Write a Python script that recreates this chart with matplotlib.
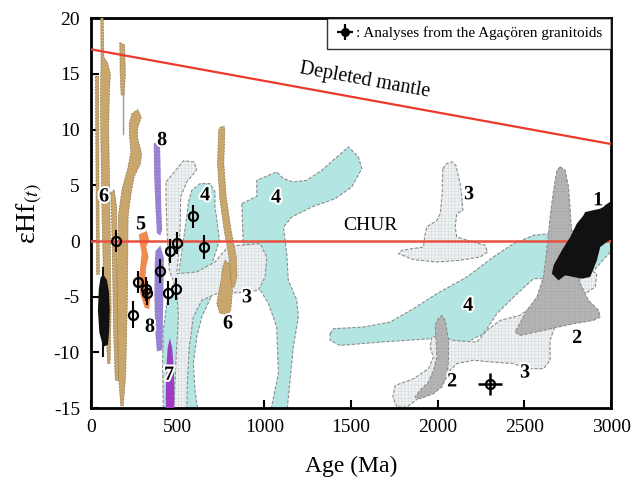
import matplotlib
matplotlib.use('Agg')
import numpy as np
import matplotlib.pyplot as plt
from matplotlib.patches import Polygon
import matplotlib.patheffects as pe

plt.rcParams['font.family'] = ['Liberation Serif', 'DejaVu Serif']
plt.rcParams['mathtext.fontset'] = 'stix'
plt.rcParams['axes.unicode_minus'] = False
plt.rcParams['hatch.linewidth'] = 0.35

# reference lines (age Ma, eHf)
dm_age = [0, 3000]
dm_eps = [17.2, 8.7]
chur_eps = 0

# Agacoren granitoid analyses
pt_age = [145, 590, 652, 494, 456, 398, 273, 317, 321, 446, 490, 240]
pt_eps = [0.0, 2.2, -0.55, -0.2, -0.9, -2.7, -3.7, -4.3, -4.65, -4.65, -4.3, -6.6]
pt_err = [1.0, 1.0, 1.1, 1.0, 1.1, 1.1, 1.0, 1.1, 1.1, 1.1, 1.0, 1.2]
old_age, old_eps, old_xerr, old_yerr = [2300], [-12.8], [70], [1.0]

# field outlines (age, eHf)
teal_a = [(870, 3.36), (956, 4.0), (956, 5.45), (1071, 6.2), (1110, 5.6), (1167, 5.3),
          (1245, 5.45), (1331, 6.35), (1485, 8.45), (1542, 7.55), (1562, 6.5), (1504, 4.85),
          (1408, 3.8), (1273, 3.05), (1158, 2.15), (1110, 1.25), (1129, -1.15), (1138, -3.55),
          (1187, -5.3), (1196, -6.8), (1167, -9.5), (1148, -12.5), (1129, -15.5), (1033, -15.5),
          (1081, -11.9), (1071, -7.7), (1023, -5.6), (965, -4.1), (889, -1.7), (877, 0.05)]
teal_b = [(1379, -8.32), (1398, -7.87), (1571, -7.72), (1725, -7.27), (1860, -6.07),
          (1995, -4.72), (2168, -3.23), (2321, -1.43), (2437, -0.23), (2552, 0.51),
          (2725, 0.81), (3020, 1.3), (3020, -0.54), (2918, -2.33), (2822, -4.13),
          (2745, -5.03), (2629, -4.13), (2610, -3.38), (2552, -3.38), (2437, -5.03),
          (2341, -6.52), (2264, -8.32), (2168, -9.07), (1956, -8.77), (1668, -9.07),
          (1437, -9.37), (1379, -8.92)]
teal_c = [(562, 3.5), (581, 4.55), (629, 5.15), (687, 5.15), (715, 4.4), (715, 3.05),
          (729, 1.56), (740, 0.06), (687, -2.6), (696, -4.9), (639, -6.8), (610, -8.6),
          (590, -11.0), (600, -13.4), (619, -15.5), (417, -15.5), (413, -11.0), (417, -8.0),
          (437, -5.6), (494, -4.1), (514, -2.0), (533, 0.06), (552, 2.15)]
hatch_a = [(433, 5.3), (533, 7.2), (594, 7.1), (610, 6.4), (552, 5.3), (517, 3.95),
           (514, 0.96), (504, -1.43), (494, -2.93), (610, -2.78), (715, -1.88), (792, -0.47),
           (975, -0.23), (1014, -1.43), (1004, -3.23), (965, -4.43), (860, -4.63), (725, -4.72),
           (639, -5.32), (590, -6.82), (567, -9.52), (556, -12.5), (552, -15.5), (475, -15.5),
           (485, -12.5), (494, -9.52), (504, -6.82), (494, -4.43), (452, -2.63), (440, 0.36),
           (433, 3.36)]
hatch_b = [(2029, 6.5), (2052, 6.95), (2081, 7.1), (2104, 6.8), (2129, 5.15), (2139, 3.95),
           (2145, 2.75), (2110, 2.46), (2100, 1.26), (2110, 0.36), (2206, -0.09), (2273, -0.38),
           (2287, -0.99), (2245, -1.43), (2129, -1.73), (1995, -1.88), (1860, -1.67),
           (1773, -1.13), (1793, -0.83), (1917, -0.54), (1927, 0.66), (1937, 1.26),
           (1995, 1.86), (2014, 2.46), (2025, 4.1)]
hatch_c = [(1764, -14.9), (1741, -14.0), (1754, -12.96), (1860, -12.36), (1946, -11.46),
           (1975, -10.42), (1956, -9.52), (1966, -8.62), (2014, -8.47), (2090, -8.92),
           (2225, -9.07), (2283, -8.02), (2360, -7.12), (2475, -6.67), (2591, -5.32),
           (2725, -4.43), (2783, -3.23), (2879, -2.63), (2918, -2.93), (2908, -4.13),
           (2822, -5.03), (2745, -5.32), (2687, -7.12), (2648, -8.92), (2648, -10.7),
           (2610, -11.46), (2514, -11.46), (2437, -11.0), (2321, -10.87), (2206, -10.7),
           (2110, -11.0), (2033, -12.2), (1975, -13.4), (1898, -14.0), (1822, -14.9)]
gray_a = [(1995, -7.12), (2023, -6.67), (2043, -7.12), (2062, -8.92), (2062, -10.7),
          (2052, -12.2), (2023, -13.1), (1975, -13.7), (1898, -14.15), (1869, -14.0),
          (1898, -13.4), (1946, -12.66), (1975, -11.6), (1995, -10.42), (1991, -8.92),
          (1985, -7.72)]
gray_b = [(2706, 6.65), (2735, 6.35), (2754, 4.85), (2764, 2.76), (2774, 0.36), (2793, -1.73),
          (2822, -3.82), (2869, -5.32), (2927, -6.22), (2937, -6.82), (2898, -7.12),
          (2783, -7.42), (2610, -8.02), (2475, -8.47), (2446, -8.17), (2514, -6.22),
          (2572, -5.03), (2610, -3.23), (2629, -0.83), (2648, 2.16), (2668, 4.55), (2687, 6.35)]
black_1 = [(2850, 2.6), (2937, 2.9), (3020, 3.8), (3020, 0.36), (2975, -0.09), (2937, -0.54),
           (2918, -1.73), (2879, -3.23), (2831, -3.38), (2735, -3.08), (2696, -3.53),
           (2658, -2.93), (2668, -2.18), (2716, -0.83), (2764, 0.36), (2802, 1.56), (2841, 2.31)]
black_blob = [(70, -3.0), (92, -3.5), (104, -4.6), (108, -6.2), (105, -8.0), (98, -9.3),
              (70, -9.5), (48, -8.2), (40, -6.2), (45, -4.3), (55, -3.3)]
blob_bar_age = [72, 72]
blob_bar_eps = [-2.4, -10.3]
tan_1 = [(26, 14.8), (44, 14.8), (46, 5), (48, -3), (32, -3), (29, 5)]
tan_a = [(56, 20.5), (70, 20.5), (74, 16.5), (95, 16.0), (112, 15.0), (106, 13.5), (102, 10),
         (106, 6), (110, 2), (112, -2), (116, -6), (110, -11), (96, -11), (80, -6), (70, -2),
         (64, 2), (60, 6), (56, 10), (55, 13.5), (58, 16)]
tan_u = [(112, 4.3), (134, 4.6), (148, 3), (150, -2), (152, -8), (160, -12.5), (140, -12.5),
         (130, -8), (124, -2), (118, 3)]
tan_b = [(166, 17.8), (194, 17.6), (198, 15), (192, 13.1), (174, 13.1), (168, 15)]
tan_c = [(235, 11.4), (270, 11.8), (290, 11.1), (270, 10.2), (268, 9.3), (292, 7.8),
         (284, 6.9), (250, 5.8), (232, 4.4), (214, 2.3), (210, -5), (200, -12), (186, -14.8),
         (172, -14.8), (158, -12), (152, -5), (158, 2.3), (180, 4.7), (212, 6.5), (230, 8),
         (222, 9.5), (220, 10.5)]
tan_d = [(745, 10.2), (768, 10.3), (772, 9.94), (766, 6.95), (780, 3.95), (808, 0.96),
         (838, -1.43), (842, -3.23), (826, -4.13), (798, -4.13), (806, -3.23), (796, -1.43),
         (768, 0.96), (742, 3.95), (730, 6.95), (736, 9.94)]
tan_e = [(773, -1.73), (795, -2.03), (806, -3.23), (816, -4.43), (806, -6.22), (786, -6.62),
         (742, -6.47), (726, -5.62), (736, -4.72), (750, -3.53), (760, -2.33)]
purple_a = [(362, 8.8), (398, 8.8), (402, 6), (405, 3), (410, 1), (400, 0.5), (380, 0.7),
            (372, 3), (364, 6)]
purple_b = [(372, -0.9), (400, -0.4), (420, -1.5), (418, -4), (415, -7), (412, -9.8),
            (380, -9.9), (370, -8), (366, -5), (368, -2)]
orange_5 = [(276, 0.6), (322, 0.9), (336, 0.06), (318, -0.54), (332, -1.43), (318, -2.33),
            (314, -3.23), (326, -4.13), (342, -5.03), (336, -6.1), (310, -6.0), (284, -4.72),
            (274, -3.53), (284, -2.33), (292, -1.13), (282, -0.23)]
magenta_7 = [(455, -8.7), (468, -9.6), (478, -11.5), (481, -14), (479, -16), (433, -16),
             (431, -14), (434, -11.5), (442, -9.6)]

# field numbers
lab_txt = ['6', '8', '4', '4', '5', '8', '7', '6', '3', '3', '1', '4', '2', '3', '2']
lab_age = [75, 410, 658, 1067, 289, 340, 450, 790, 900, 2181, 2925, 2175, 2804, 2504, 2083]
lab_eps = [4.0, 9.05, 4.1, 3.9, 1.5, -7.7, -12.0, -7.4, -5.05, 4.2, 3.65, -5.8, -8.7, -11.8, -12.6]

TEAL = '#b3e6e2'
HATCH_FC = '#eff2f3'
GRAY = '#b5b5b5'
TAN = '#c9a76c'


def draw_shape(ax, pts, fc, z, ec='#8c8c8c', hatch=None, hc='#d2d9dc', lw=0.8):
    ax.add_patch(Polygon(pts, closed=True, facecolor=fc, edgecolor='none', zorder=z))
    if hatch:
        ax.add_patch(Polygon(pts, closed=True, facecolor='none', edgecolor=hc,
                             hatch=hatch, lw=0, zorder=z))
    if ec:
        ax.add_patch(Polygon(pts, closed=True, fill=False, edgecolor=ec,
                             ls=(0, (3, 1.5)), lw=lw, zorder=z))


fig = plt.figure(figsize=(6.32, 4.90), dpi=100)
ax = fig.add_axes([0.144, 0.167, 0.823, 0.796])

for shp in (teal_a, teal_b, teal_c):
    draw_shape(ax, shp, TEAL, 1)
for shp in (hatch_a, hatch_b, hatch_c):
    draw_shape(ax, shp, HATCH_FC, 2, hatch='+++++')
for shp in (gray_a, gray_b):
    draw_shape(ax, shp, GRAY, 3, hatch='+++++', hc='#aaaaaa')
for shp in (tan_1, tan_a, tan_u, tan_b, tan_c, tan_d, tan_e):
    draw_shape(ax, shp, TAN, 3.5, ec='#8a7550', lw=0.5)
ax.plot([183, 183], [13.1, 9.6], color='#9a9a9a', lw=1, zorder=3.5)
draw_shape(ax, purple_a, '#9b86d6', 4, ec=None, hatch='-----', hc='#8a74c8')
draw_shape(ax, purple_b, '#9b86d6', 4, ec=None, hatch='-----', hc='#8a74c8')
draw_shape(ax, orange_5, '#f08a4e', 4, ec=None)
draw_shape(ax, magenta_7, '#a03cc4', 4, ec=None)

ax.plot(dm_age, dm_eps, color='#ee3a2c', lw=1.6, zorder=4.5)
ax.axhline(chur_eps, color='#e8503f', lw=1.8, zorder=4.5)

draw_shape(ax, black_1, '#111111', 5, ec=None)
draw_shape(ax, black_blob, '#111111', 5, ec=None)
ax.plot(blob_bar_age, blob_bar_eps, color='#111111', lw=1.5, zorder=5)

ax.errorbar(pt_age, pt_eps, yerr=pt_err, fmt='o', mfc='none', mec='black', mew=1.6, ms=6.5,
            ecolor='black', elinewidth=1.5, capsize=0, zorder=6)
ax.errorbar(old_age, old_eps, xerr=old_xerr, yerr=old_yerr, fmt='o', mfc='none', mec='black',
            mew=1.6, ms=6.5, ecolor='black', elinewidth=1.8, capsize=0, zorder=6)

halo = [pe.withStroke(linewidth=3, foreground='white')]
for t, x, y in zip(lab_txt, lab_age, lab_eps):
    ax.text(x, y, t, fontsize=14.5, fontweight='bold', ha='center', va='center',
            zorder=7, path_effects=halo)

ax.text(1580, 14.4, 'Depleted mantle', fontsize=14.5, rotation=-10.3,
        ha='center', va='center', rotation_mode='anchor')
ax.text(1610, 1.4, 'CHUR', fontsize=14, ha='center', va='center')

handle = ax.errorbar([np.nan], [np.nan], xerr=[1], yerr=[1], fmt='o', color='black',
                     ms=5.5, elinewidth=1.6, capsize=0)
leg = ax.legend([handle], [': Analyses from the Agaçören granitoids'], loc='upper right',
                fontsize=11, frameon=True, fancybox=False, borderaxespad=0,
                handlelength=1.3, handletextpad=0.1, borderpad=0.55)
leg.get_frame().set_edgecolor('black')
leg.get_frame().set_linewidth(1.0)
leg.set_zorder(8)

ax.set_xlim(0, 3000)
ax.set_ylim(-15, 20)
ax.set_xticks(range(0, 3001, 500))
ax.set_yticks(range(-15, 21, 5))
ax.tick_params(direction='in', length=6, width=1.5, labelsize=14, pad=8)
for s in ax.spines.values():
    s.set_linewidth(2)
ax.set_xlabel('Age (Ma)', fontsize=17, labelpad=14)
ax.set_ylabel('εHf$_{(t)}$', fontsize=20, labelpad=6)

fig.savefig('out.png', dpi=100)
